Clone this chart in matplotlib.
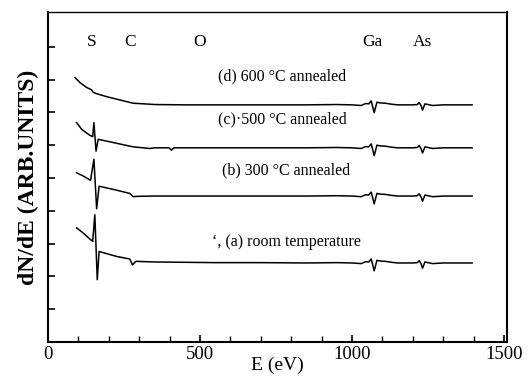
import matplotlib
matplotlib.use("Agg")
import matplotlib.pyplot as plt
from matplotlib.ticker import MultipleLocator

# energies (eV) and dN/dE values
E_D = [89, 105, 127, 143, 149, 160, 193, 236, 280, 335,
       350, 450, 550, 700, 850, 950, 1000, 1030, 1045, 1055, 1063, 1068, 1073, 1082,
       1092, 1110, 1130, 1150, 1200, 1215, 1221, 1227, 1232, 1240, 1250, 1265, 1300, 1395]
D_600 = [8.06, 7.91, 7.76, 7.69, 7.61, 7.57, 7.48, 7.38, 7.28, 7.25,
         7.24, 7.23, 7.23, 7.23, 7.23, 7.24, 7.23, 7.21, 7.27, 7.26, 7.35, 7.18, 6.99, 7.31,
         7.29, 7.28, 7.25, 7.23, 7.23, 7.24, 7.30, 7.21, 7.07, 7.26, 7.24, 7.21, 7.23, 7.23]

E_C = [94, 111, 138, 147, 151, 158, 165, 225, 280, 335,
       350, 398, 406, 414, 450, 550, 700, 850, 950, 1000, 1030, 1045, 1055, 1063, 1068, 1073,
       1082, 1092, 1110, 1130, 1150, 1200, 1215, 1221, 1227, 1232, 1240, 1250, 1265, 1300, 1395]
C_500 = [6.69, 6.48, 6.30, 6.26, 6.69, 5.82, 6.18, 6.06, 5.95, 5.90,
         5.92, 5.92, 5.85, 5.92, 5.92, 5.92, 5.92, 5.92, 5.93, 5.92, 5.90, 5.96, 5.95, 6.04, 5.87, 5.68,
         6.00, 5.98, 5.97, 5.94, 5.92, 5.92, 5.93, 5.99, 5.90, 5.76, 5.95, 5.93, 5.90, 5.92, 5.92]

E_B = [94, 116, 140, 151, 160, 168, 225, 269, 280, 291,
       350, 450, 550, 700, 850, 950, 1000, 1030, 1045, 1055, 1063, 1068, 1073, 1082,
       1092, 1110, 1130, 1150, 1200, 1215, 1221, 1227, 1232, 1240, 1250, 1265, 1300, 1395]
B_300 = [5.16, 5.06, 4.93, 5.57, 4.06, 4.75, 4.63, 4.53, 4.43, 4.44,
         4.45, 4.45, 4.45, 4.45, 4.45, 4.46, 4.45, 4.43, 4.49, 4.48, 4.57, 4.40, 4.21, 4.53,
         4.51, 4.50, 4.47, 4.45, 4.45, 4.46, 4.52, 4.43, 4.29, 4.48, 4.46, 4.43, 4.45, 4.45]

E_A = [94, 116, 140, 147, 154, 162, 168, 225, 269, 278, 289,
       350, 450, 550, 700, 850, 950, 1000, 1030, 1045, 1055, 1063, 1068, 1073, 1082,
       1092, 1110, 1130, 1150, 1200, 1215, 1221, 1227, 1232, 1240, 1250, 1265, 1300, 1395]
A_RT = [3.48, 3.32, 3.12, 3.07, 3.88, 1.90, 2.76, 2.61, 2.53, 2.35, 2.46,
        2.44, 2.43, 2.42, 2.42, 2.41, 2.42, 2.41, 2.39, 2.45, 2.44, 2.53, 2.36, 2.17, 2.49,
        2.47, 2.46, 2.43, 2.41, 2.41, 2.42, 2.48, 2.39, 2.25, 2.44, 2.42, 2.39, 2.41, 2.41]

ELEMENTS = ["S", "C", "O", "Ga", "As"]
ELEMENT_E = [144, 269, 499, 1067, 1231]
ELEMENT_Y = 9.14

CURVE_LABELS = ["(d) 600 \u00b0C annealed", "(c)\u00b7500 \u00b0C annealed",
                "(b) 300 \u00b0C annealed", "\u2018, (a) room temperature"]
LABEL_E = [558, 558, 571, 541]
LABEL_Y = [8.10, 6.79, 5.23, 3.06]

XTICKS = [0, 500, 1000, 1500]

plt.rcParams["font.family"] = ["Liberation Serif", "DejaVu Serif"]

fig = plt.figure(figsize=(5.27, 3.77), dpi=100)
ax = fig.add_axes([0.0911, 0.0928, 0.871, 0.8753])

for e, y in [(E_D, D_600), (E_C, C_500), (E_B, B_300), (E_A, A_RT)]:
    ax.plot(e, y, color="black", lw=1.1)

for name, e in zip(ELEMENTS, ELEMENT_E):
    ax.text(e, ELEMENT_Y, name, ha="center", va="center", fontsize=12.5)

for lab, e, y in zip(CURVE_LABELS, LABEL_E, LABEL_Y):
    ax.text(e, y, lab, ha="left", va="center", fontsize=11.5)

ax.set_xlim(0, 1510)
ax.set_ylim(0, 10.06)
ax.set_xticks(XTICKS)
ax.xaxis.set_minor_locator(MultipleLocator(100))
ax.set_yticks(range(1, 10))
ax.set_yticklabels([])
ax.tick_params(axis="both", which="both", direction="in", labelsize=13.5)
ax.tick_params(axis="y", length=5, width=1.2)
ax.tick_params(axis="x", which="major", length=5, width=1.2, pad=3)
ax.tick_params(axis="x", which="minor", length=4, width=1.0)
for s in ax.spines.values():
    s.set_linewidth(1.5)
ax.spines["top"].set_linewidth(1.0)

ax.set_xlabel("E (eV)", fontsize=14, labelpad=-5)
ax.set_ylabel("dN/dE (ARB.UNITS)", fontsize=17, fontweight="bold", labelpad=3)

fig.savefig("out.png", dpi=100)
